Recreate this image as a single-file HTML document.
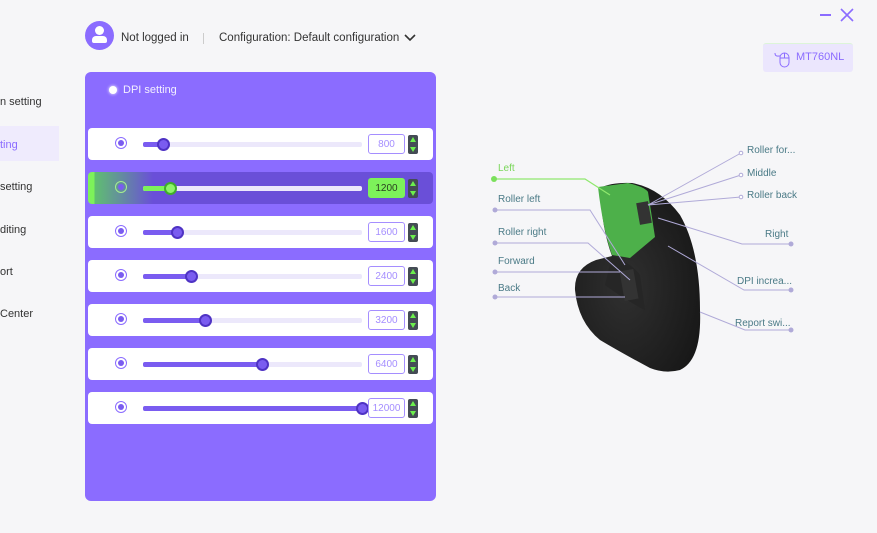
<!DOCTYPE html>
<html><head><meta charset="utf-8"><style>
body{margin:0;width:877px;height:533px;background:#f6f6f8;font-family:"Liberation Sans",sans-serif;position:relative;overflow:hidden}
.a{position:absolute}
.nav{font-size:11px;color:#333;left:0}
.row{position:absolute;left:88px;width:345px;height:32px;background:#fff;border-radius:4px}
.radio{position:absolute;left:27px;top:9px;width:10px;height:10px;border:1.5px solid #8b6cff;border-radius:50%}
.radio:after{content:"";position:absolute;left:2px;top:2px;width:6px;height:6px;border-radius:50%;background:#7a5cf0}
.track{position:absolute;left:55px;top:14px;width:219px;height:5px;background:#ece8fb;border-radius:2px}
.fill{position:absolute;left:0;top:0;height:5px;background:#7a5cf0;border-radius:2px}
.knob{position:absolute;top:-4px;width:9px;height:9px;border-radius:50%;background:#7a5cf0;border:2px solid #4f33c4;margin-left:-6px}
.inp{position:absolute;left:280px;top:6px;width:35px;height:18px;border:1px solid #a58eff;border-radius:3px;font-size:10px;color:#a58eff;text-align:center;line-height:20px}
.btn{position:absolute;left:320px;top:7px;width:10px;height:19px;background:#444b55;border-radius:2px}
.btn:before{content:"";position:absolute;left:2px;top:2px;border:3px solid transparent;border-bottom:5px solid #6bef4d;border-top:0}
.btn:after{content:"";position:absolute;left:2px;bottom:2px;border:3px solid transparent;border-top:5px solid #6bef4d;border-bottom:0}
.lb{position:absolute;font-size:10px;color:#4a7a86}
</style></head><body>
<div class="a nav" style="top:96px">n setting</div>
<div class="a" style="left:0;top:126px;width:59px;height:35px;background:#efebfd"></div>
<div class="a nav" style="top:139px;color:#8b6cff">ting</div>
<div class="a nav" style="top:181px">setting</div>
<div class="a nav" style="top:224px">diting</div>
<div class="a nav" style="top:266px">ort</div>
<div class="a nav" style="top:308px">Center</div>

<div class="a" style="left:85px;top:21px;width:29px;height:29px;border-radius:50%;background:#8b6cff"></div>
<div class="a" style="left:95px;top:26px;width:9px;height:9px;border-radius:50%;background:#fff"></div>
<div class="a" style="left:92px;top:36px;width:15px;height:7px;border-radius:4px 4px 2px 2px;background:#fff"></div>
<div class="a" style="left:121px;top:32px;font-size:11.5px;color:#333">Not logged in</div>
<div class="a" style="left:203px;top:33px;width:1px;height:11px;background:#ccc"></div>
<div class="a" style="left:219px;top:32px;font-size:11.5px;color:#333">Configuration: Default configuration</div>
<svg class="a" style="left:404px;top:34px" width="12" height="8"><path d="M1 1l5 5 5-5" stroke="#333" stroke-width="1.6" fill="none"/></svg>

<div class="a" style="left:820px;top:14px;width:11px;height:1.5px;background:#8b6cff"></div>
<svg class="a" style="left:840px;top:8px" width="14" height="14"><path d="M1 1l12 12M13 1L1 13" stroke="#8b6cff" stroke-width="1.6"/></svg>
<div class="a" style="left:763px;top:43px;width:90px;height:28px;background:#ebe6fd;border-radius:3px;border-top:1px solid #dcf5d8"></div>
<svg class="a" style="left:772px;top:48px" width="20" height="20"><path d="M3 5c0 4 3 3 5 3" stroke="#8b6cff" fill="none"/><rect x="8" y="5" width="9" height="14" rx="4.5" stroke="#8b6cff" fill="none"/><path d="M12.5 5v5M8 10h9" stroke="#8b6cff"/></svg>
<div class="a" style="left:796px;top:51px;font-size:11px;color:#8b6cff">MT760NL</div>

<div class="a" style="left:85px;top:72px;width:351px;height:429px;background:#8b6cff;border-radius:6px"></div>
<div class="a" style="left:109px;top:86px;width:8px;height:8px;border-radius:50%;background:#fff;box-shadow:0 0 3px #fff"></div>
<div class="a" style="left:123px;top:84px;font-size:11px;color:#f3f0ff">DPI setting</div>

<div class="row" style="top:128px"><div class="radio"></div><div class="track"><div class="fill" style="width:20px"></div><div class="knob" style="left:20px"></div></div><div class="inp">800</div><div class="btn"></div></div>
<div class="row" style="top:172px;background:linear-gradient(90deg,#7df25a 0,#7df25a 6px,#5fbf70 7px,#6a4fd8 65px)"><div class="radio" style="border-color:#a6f08f"></div><div class="track"><div class="fill" style="width:27px;background:#7df25a"></div><div class="knob" style="left:27px;background:#8ef36a;border-color:#3fae2a"></div></div><div class="inp" style="background:#7df25a;border-color:#7df25a;color:#2a4020">1200</div><div class="btn"></div></div>
<div class="row" style="top:216px"><div class="radio"></div><div class="track"><div class="fill" style="width:34px"></div><div class="knob" style="left:34px"></div></div><div class="inp">1600</div><div class="btn"></div></div>
<div class="row" style="top:260px"><div class="radio"></div><div class="track"><div class="fill" style="width:48px"></div><div class="knob" style="left:48px"></div></div><div class="inp">2400</div><div class="btn"></div></div>
<div class="row" style="top:304px"><div class="radio"></div><div class="track"><div class="fill" style="width:62px"></div><div class="knob" style="left:62px"></div></div><div class="inp">3200</div><div class="btn"></div></div>
<div class="row" style="top:348px"><div class="radio"></div><div class="track"><div class="fill" style="width:119px"></div><div class="knob" style="left:119px"></div></div><div class="inp">6400</div><div class="btn"></div></div>
<div class="row" style="top:392px"><div class="radio"></div><div class="track"><div class="fill" style="width:219px"></div><div class="knob" style="left:219px"></div></div><div class="inp">12000</div><div class="btn"></div></div>

<svg class="a" style="left:0;top:0" width="877" height="533">
<defs><radialGradient id="g" cx="0.4" cy="0.55" r="0.7"><stop offset="0" stop-color="#303030"/><stop offset="1" stop-color="#161616"/></radialGradient></defs>
<path d="M600,188 Q612,182 632,183 Q660,188 680,215 Q700,250 700,310 Q702,360 680,370 Q665,374 650,368 Q620,352 600,340 Q578,322 575,290 Q574,268 596,260 L612,256 Q602,230 600,188 Z" fill="url(#g)"/>
<path d="M612,256 Q630,262 640,275 L645,310 Q625,300 605,285 Z" fill="#262626"/>
<path d="M598,187 L628,183 Q645,187 648,192 L655,237 L630,258 L612,255 Q603,230 598,187 Z" fill="#4db04a"/>
<rect x="638" y="202" width="12" height="22" fill="#333" transform="rotate(-10 644 213)"/>
<rect x="622" y="270" width="14" height="30" fill="#333" transform="rotate(-10 629 285)"/>
<g stroke="#b0aad8" stroke-width="1" fill="none">
<polyline points="495,210 590,210 625,265"/>
<polyline points="495,243 588,243 630,280"/>
<polyline points="495,272 620,272"/>
<polyline points="495,297 625,297"/>
<line x1="741" y1="153" x2="648" y2="205"/>
<line x1="741" y1="175" x2="648" y2="205"/>
<line x1="741" y1="197" x2="648" y2="205"/>
<polyline points="790,244 742,244 658,218"/>
<polyline points="791,290 744,290 668,246"/>
<polyline points="791,330 745,330 700,312"/>
</g>
<polyline points="494,179 585,179 610,195" stroke="#8fe86e" stroke-width="1.2" fill="none"/>
<circle cx="494" cy="179" r="3" fill="#7be05c"/>
<g fill="#b0aad8"><circle cx="495" cy="210" r="2.5"/><circle cx="495" cy="243" r="2.5"/><circle cx="495" cy="272" r="2.5"/><circle cx="495" cy="297" r="2.5"/><circle cx="791" cy="244" r="2.5"/><circle cx="791" cy="290" r="2.5"/><circle cx="791" cy="330" r="2.5"/></g>
<g fill="#fff" stroke="#b0aad8"><circle cx="741" cy="153" r="1.8"/><circle cx="741" cy="175" r="1.8"/><circle cx="741" cy="197" r="1.8"/></g>
</svg>
<div class="lb" style="left:498px;top:163px;color:#7ad65a">Left</div>
<div class="lb" style="left:498px;top:194px">Roller left</div>
<div class="lb" style="left:498px;top:227px">Roller right</div>
<div class="lb" style="left:498px;top:256px">Forward</div>
<div class="lb" style="left:498px;top:283px">Back</div>
<div class="lb" style="left:747px;top:145px">Roller for...</div>
<div class="lb" style="left:747px;top:168px">Middle</div>
<div class="lb" style="left:747px;top:190px">Roller back</div>
<div class="lb" style="left:765px;top:229px">Right</div>
<div class="lb" style="left:737px;top:276px">DPI increa...</div>
<div class="lb" style="left:735px;top:318px">Report swi...</div>
</body></html>
